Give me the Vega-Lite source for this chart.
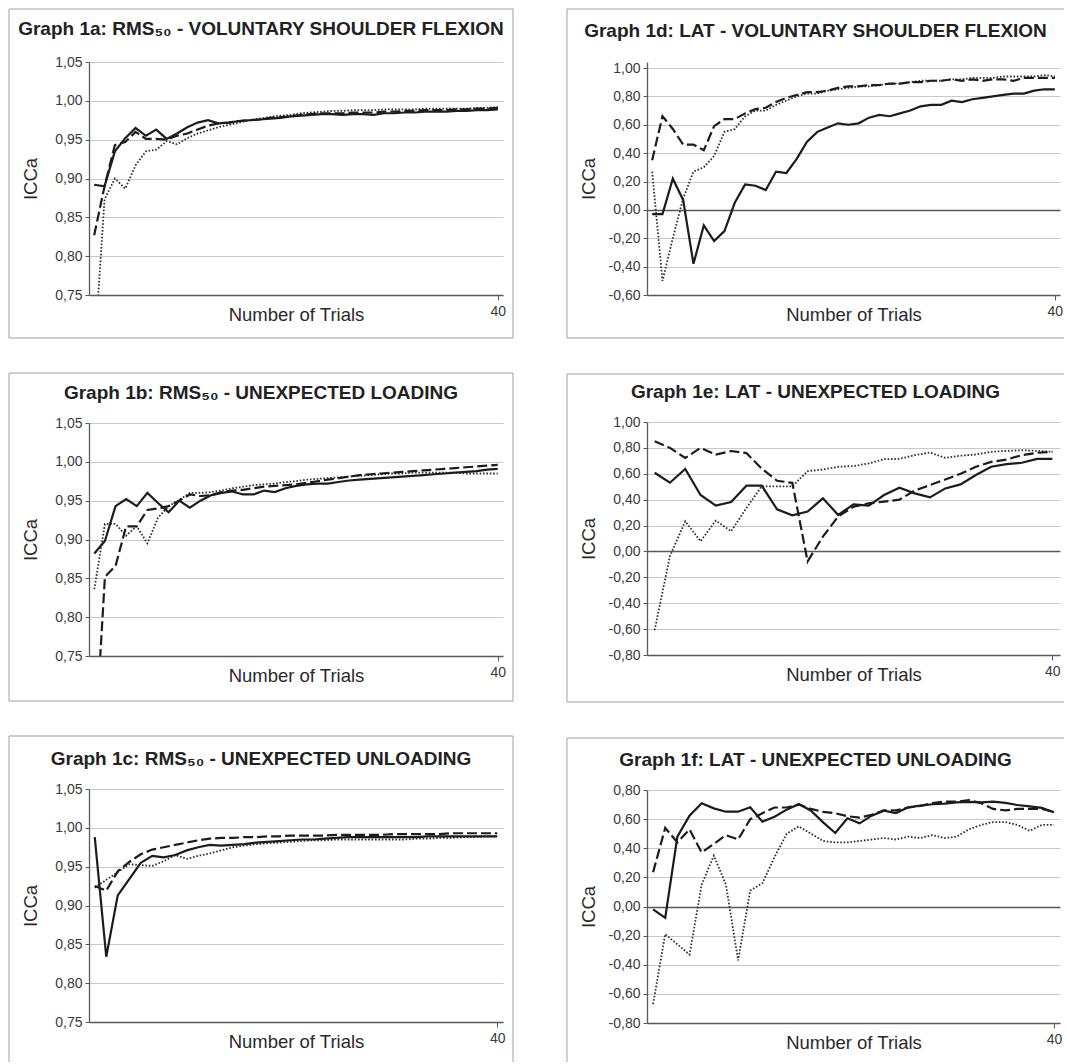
{
"$schema":"https://vega.github.io/schema/vega-lite/v6.json",
"padding":{"left":8,"top":8,"right":0,"bottom":0},
"background":"white",
"config":{
 "view":{"stroke":null},
 "font":"Liberation Sans",
 "axis":{"labelFont":"Liberation Sans","titleFont":"Liberation Sans","labelFontSize":14,"labelColor":"#3a3a3a","titleFontSize":18.5,"titleFontWeight":"normal","titleColor":"#2a2a2a","domainColor":"#5a5a5a","domainWidth":1.3,"tickColor":"#5a5a5a","tickSize":4,"labelPadding":3,"gridColor":{"condition":{"test":"datum.value === 0","value":"#5a5a5a"},"value":"#c8c8c8"},"gridWidth":{"condition":{"test":"datum.value === 0","value":1.6},"value":1}},
 "axisX":{"tickSize":5,"labelPadding":4,"titleY":25,"titleBaseline":"alphabetic","grid":false},
 "axisY":{"titleX":-59,"titleBaseline":"middle"},
 "title":{"font":"Liberation Sans","fontSize":19,"fontWeight":"bold","color":"#222222","anchor":"middle","frame":"bounds","baseline":"alphabetic"}
},
"datasets":{
"g1a":[
{"trial":1,"series":"S1","icc":0.892},{"trial":2,"series":"S1","icc":0.890},{"trial":3,"series":"S1","icc":0.935},{"trial":4,"series":"S1","icc":0.952},{"trial":5,"series":"S1","icc":0.965},{"trial":6,"series":"S1","icc":0.955},{"trial":7,"series":"S1","icc":0.963},{"trial":8,"series":"S1","icc":0.951},{"trial":9,"series":"S1","icc":0.958},{"trial":10,"series":"S1","icc":0.966},
{"trial":11,"series":"S1","icc":0.972},{"trial":12,"series":"S1","icc":0.975},{"trial":13,"series":"S1","icc":0.971},{"trial":14,"series":"S1","icc":0.972},{"trial":15,"series":"S1","icc":0.974},{"trial":16,"series":"S1","icc":0.975},{"trial":17,"series":"S1","icc":0.976},{"trial":18,"series":"S1","icc":0.977},{"trial":19,"series":"S1","icc":0.978},{"trial":20,"series":"S1","icc":0.980},
{"trial":21,"series":"S1","icc":0.981},{"trial":22,"series":"S1","icc":0.982},{"trial":23,"series":"S1","icc":0.983},{"trial":24,"series":"S1","icc":0.983},{"trial":25,"series":"S1","icc":0.982},{"trial":26,"series":"S1","icc":0.983},{"trial":27,"series":"S1","icc":0.983},{"trial":28,"series":"S1","icc":0.982},{"trial":29,"series":"S1","icc":0.984},{"trial":30,"series":"S1","icc":0.984},
{"trial":31,"series":"S1","icc":0.985},{"trial":32,"series":"S1","icc":0.985},{"trial":33,"series":"S1","icc":0.986},{"trial":34,"series":"S1","icc":0.986},{"trial":35,"series":"S1","icc":0.986},{"trial":36,"series":"S1","icc":0.987},{"trial":37,"series":"S1","icc":0.987},{"trial":38,"series":"S1","icc":0.988},{"trial":39,"series":"S1","icc":0.988},{"trial":40,"series":"S1","icc":0.989},
{"trial":1,"series":"S2","icc":0.827},{"trial":2,"series":"S2","icc":0.890},{"trial":3,"series":"S2","icc":0.943},{"trial":4,"series":"S2","icc":0.947},{"trial":5,"series":"S2","icc":0.960},{"trial":6,"series":"S2","icc":0.951},{"trial":7,"series":"S2","icc":0.951},{"trial":8,"series":"S2","icc":0.950},{"trial":9,"series":"S2","icc":0.955},{"trial":10,"series":"S2","icc":0.958},
{"trial":11,"series":"S2","icc":0.963},{"trial":12,"series":"S2","icc":0.968},{"trial":13,"series":"S2","icc":0.971},{"trial":14,"series":"S2","icc":0.972},{"trial":15,"series":"S2","icc":0.974},{"trial":16,"series":"S2","icc":0.975},{"trial":17,"series":"S2","icc":0.976},{"trial":18,"series":"S2","icc":0.978},{"trial":19,"series":"S2","icc":0.979},{"trial":20,"series":"S2","icc":0.980},
{"trial":21,"series":"S2","icc":0.982},{"trial":22,"series":"S2","icc":0.983},{"trial":23,"series":"S2","icc":0.984},{"trial":24,"series":"S2","icc":0.984},{"trial":25,"series":"S2","icc":0.984},{"trial":26,"series":"S2","icc":0.985},{"trial":27,"series":"S2","icc":0.985},{"trial":28,"series":"S2","icc":0.985},{"trial":29,"series":"S2","icc":0.986},{"trial":30,"series":"S2","icc":0.986},
{"trial":31,"series":"S2","icc":0.987},{"trial":32,"series":"S2","icc":0.987},{"trial":33,"series":"S2","icc":0.988},{"trial":34,"series":"S2","icc":0.988},{"trial":35,"series":"S2","icc":0.988},{"trial":36,"series":"S2","icc":0.989},{"trial":37,"series":"S2","icc":0.989},{"trial":38,"series":"S2","icc":0.990},{"trial":39,"series":"S2","icc":0.990},{"trial":40,"series":"S2","icc":0.991},
{"trial":1,"series":"S3","icc":0.670},{"trial":2,"series":"S3","icc":0.873},{"trial":3,"series":"S3","icc":0.900},{"trial":4,"series":"S3","icc":0.887},{"trial":5,"series":"S3","icc":0.917},{"trial":6,"series":"S3","icc":0.935},{"trial":7,"series":"S3","icc":0.937},{"trial":8,"series":"S3","icc":0.948},{"trial":9,"series":"S3","icc":0.944},{"trial":10,"series":"S3","icc":0.952},
{"trial":11,"series":"S3","icc":0.958},{"trial":12,"series":"S3","icc":0.962},{"trial":13,"series":"S3","icc":0.966},{"trial":14,"series":"S3","icc":0.969},{"trial":15,"series":"S3","icc":0.972},{"trial":16,"series":"S3","icc":0.975},{"trial":17,"series":"S3","icc":0.977},{"trial":18,"series":"S3","icc":0.979},{"trial":19,"series":"S3","icc":0.981},{"trial":20,"series":"S3","icc":0.982},
{"trial":21,"series":"S3","icc":0.984},{"trial":22,"series":"S3","icc":0.985},{"trial":23,"series":"S3","icc":0.986},{"trial":24,"series":"S3","icc":0.987},{"trial":25,"series":"S3","icc":0.987},{"trial":26,"series":"S3","icc":0.988},{"trial":27,"series":"S3","icc":0.988},{"trial":28,"series":"S3","icc":0.988},{"trial":29,"series":"S3","icc":0.989},{"trial":30,"series":"S3","icc":0.989},
{"trial":31,"series":"S3","icc":0.989},{"trial":32,"series":"S3","icc":0.989},{"trial":33,"series":"S3","icc":0.990},{"trial":34,"series":"S3","icc":0.990},{"trial":35,"series":"S3","icc":0.990},{"trial":36,"series":"S3","icc":0.990},{"trial":37,"series":"S3","icc":0.990},{"trial":38,"series":"S3","icc":0.991},{"trial":39,"series":"S3","icc":0.991},{"trial":40,"series":"S3","icc":0.992}
],
"g1b":[
{"trial":2,"series":"S1","icc":0.882},{"trial":3,"series":"S1","icc":0.898},{"trial":4,"series":"S1","icc":0.943},{"trial":5,"series":"S1","icc":0.952},{"trial":6,"series":"S1","icc":0.943},{"trial":7,"series":"S1","icc":0.960},{"trial":8,"series":"S1","icc":0.947},{"trial":9,"series":"S1","icc":0.935},{"trial":10,"series":"S1","icc":0.950},
{"trial":11,"series":"S1","icc":0.941},{"trial":12,"series":"S1","icc":0.950},{"trial":13,"series":"S1","icc":0.957},{"trial":14,"series":"S1","icc":0.960},{"trial":15,"series":"S1","icc":0.962},{"trial":16,"series":"S1","icc":0.958},{"trial":17,"series":"S1","icc":0.958},{"trial":18,"series":"S1","icc":0.963},{"trial":19,"series":"S1","icc":0.961},{"trial":20,"series":"S1","icc":0.966},
{"trial":21,"series":"S1","icc":0.969},{"trial":22,"series":"S1","icc":0.971},{"trial":23,"series":"S1","icc":0.972},{"trial":24,"series":"S1","icc":0.972},{"trial":25,"series":"S1","icc":0.974},{"trial":26,"series":"S1","icc":0.976},{"trial":27,"series":"S1","icc":0.977},{"trial":28,"series":"S1","icc":0.978},{"trial":29,"series":"S1","icc":0.979},{"trial":30,"series":"S1","icc":0.980},
{"trial":31,"series":"S1","icc":0.981},{"trial":32,"series":"S1","icc":0.982},{"trial":33,"series":"S1","icc":0.983},{"trial":34,"series":"S1","icc":0.984},{"trial":35,"series":"S1","icc":0.985},{"trial":36,"series":"S1","icc":0.986},{"trial":37,"series":"S1","icc":0.987},{"trial":38,"series":"S1","icc":0.988},{"trial":39,"series":"S1","icc":0.990},{"trial":40,"series":"S1","icc":0.991},
{"trial":2,"series":"S2","icc":0.620},{"trial":3,"series":"S2","icc":0.852},{"trial":4,"series":"S2","icc":0.866},{"trial":5,"series":"S2","icc":0.917},{"trial":6,"series":"S2","icc":0.917},{"trial":7,"series":"S2","icc":0.938},{"trial":8,"series":"S2","icc":0.940},{"trial":9,"series":"S2","icc":0.943},{"trial":10,"series":"S2","icc":0.950},
{"trial":11,"series":"S2","icc":0.958},{"trial":12,"series":"S2","icc":0.956},{"trial":13,"series":"S2","icc":0.957},{"trial":14,"series":"S2","icc":0.961},{"trial":15,"series":"S2","icc":0.963},{"trial":16,"series":"S2","icc":0.964},{"trial":17,"series":"S2","icc":0.966},{"trial":18,"series":"S2","icc":0.968},{"trial":19,"series":"S2","icc":0.969},{"trial":20,"series":"S2","icc":0.970},
{"trial":21,"series":"S2","icc":0.971},{"trial":22,"series":"S2","icc":0.973},{"trial":23,"series":"S2","icc":0.975},{"trial":24,"series":"S2","icc":0.977},{"trial":25,"series":"S2","icc":0.979},{"trial":26,"series":"S2","icc":0.981},{"trial":27,"series":"S2","icc":0.983},{"trial":28,"series":"S2","icc":0.984},{"trial":29,"series":"S2","icc":0.985},{"trial":30,"series":"S2","icc":0.986},
{"trial":31,"series":"S2","icc":0.987},{"trial":32,"series":"S2","icc":0.988},{"trial":33,"series":"S2","icc":0.989},{"trial":34,"series":"S2","icc":0.990},{"trial":35,"series":"S2","icc":0.991},{"trial":36,"series":"S2","icc":0.992},{"trial":37,"series":"S2","icc":0.993},{"trial":38,"series":"S2","icc":0.994},{"trial":39,"series":"S2","icc":0.995},{"trial":40,"series":"S2","icc":0.996},
{"trial":2,"series":"S3","icc":0.836},{"trial":3,"series":"S3","icc":0.920},{"trial":4,"series":"S3","icc":0.920},{"trial":5,"series":"S3","icc":0.905},{"trial":6,"series":"S3","icc":0.917},{"trial":7,"series":"S3","icc":0.895},{"trial":8,"series":"S3","icc":0.928},{"trial":9,"series":"S3","icc":0.943},{"trial":10,"series":"S3","icc":0.951},
{"trial":11,"series":"S3","icc":0.960},{"trial":12,"series":"S3","icc":0.960},{"trial":13,"series":"S3","icc":0.961},{"trial":14,"series":"S3","icc":0.963},{"trial":15,"series":"S3","icc":0.966},{"trial":16,"series":"S3","icc":0.968},{"trial":17,"series":"S3","icc":0.970},{"trial":18,"series":"S3","icc":0.971},{"trial":19,"series":"S3","icc":0.972},{"trial":20,"series":"S3","icc":0.974},
{"trial":21,"series":"S3","icc":0.975},{"trial":22,"series":"S3","icc":0.977},{"trial":23,"series":"S3","icc":0.978},{"trial":24,"series":"S3","icc":0.979},{"trial":25,"series":"S3","icc":0.980},{"trial":26,"series":"S3","icc":0.981},{"trial":27,"series":"S3","icc":0.982},{"trial":28,"series":"S3","icc":0.983},{"trial":29,"series":"S3","icc":0.984},{"trial":30,"series":"S3","icc":0.985},
{"trial":31,"series":"S3","icc":0.985},{"trial":32,"series":"S3","icc":0.986},{"trial":33,"series":"S3","icc":0.986},{"trial":34,"series":"S3","icc":0.986},{"trial":35,"series":"S3","icc":0.986},{"trial":36,"series":"S3","icc":0.986},{"trial":37,"series":"S3","icc":0.985},{"trial":38,"series":"S3","icc":0.985},{"trial":39,"series":"S3","icc":0.985},{"trial":40,"series":"S3","icc":0.985}
],
"g1c":[
{"trial":5,"series":"S1","icc":0.988},{"trial":6,"series":"S1","icc":0.834},{"trial":7,"series":"S1","icc":0.913},{"trial":8,"series":"S1","icc":0.934},{"trial":9,"series":"S1","icc":0.955},{"trial":10,"series":"S1","icc":0.964},
{"trial":11,"series":"S1","icc":0.962},{"trial":12,"series":"S1","icc":0.965},{"trial":13,"series":"S1","icc":0.971},{"trial":14,"series":"S1","icc":0.975},{"trial":15,"series":"S1","icc":0.978},{"trial":16,"series":"S1","icc":0.977},{"trial":17,"series":"S1","icc":0.978},{"trial":18,"series":"S1","icc":0.979},{"trial":19,"series":"S1","icc":0.981},{"trial":20,"series":"S1","icc":0.982},
{"trial":21,"series":"S1","icc":0.983},{"trial":22,"series":"S1","icc":0.984},{"trial":23,"series":"S1","icc":0.985},{"trial":24,"series":"S1","icc":0.985},{"trial":25,"series":"S1","icc":0.986},{"trial":26,"series":"S1","icc":0.987},{"trial":27,"series":"S1","icc":0.988},{"trial":28,"series":"S1","icc":0.988},{"trial":29,"series":"S1","icc":0.988},{"trial":30,"series":"S1","icc":0.988},
{"trial":31,"series":"S1","icc":0.988},{"trial":32,"series":"S1","icc":0.988},{"trial":33,"series":"S1","icc":0.988},{"trial":34,"series":"S1","icc":0.989},{"trial":35,"series":"S1","icc":0.989},{"trial":36,"series":"S1","icc":0.989},{"trial":37,"series":"S1","icc":0.989},{"trial":38,"series":"S1","icc":0.989},{"trial":39,"series":"S1","icc":0.989},{"trial":40,"series":"S1","icc":0.989},
{"trial":5,"series":"S2","icc":0.925},{"trial":6,"series":"S2","icc":0.919},{"trial":7,"series":"S2","icc":0.944},{"trial":8,"series":"S2","icc":0.956},{"trial":9,"series":"S2","icc":0.966},{"trial":10,"series":"S2","icc":0.972},
{"trial":11,"series":"S2","icc":0.975},{"trial":12,"series":"S2","icc":0.978},{"trial":13,"series":"S2","icc":0.981},{"trial":14,"series":"S2","icc":0.984},{"trial":15,"series":"S2","icc":0.986},{"trial":16,"series":"S2","icc":0.987},{"trial":17,"series":"S2","icc":0.987},{"trial":18,"series":"S2","icc":0.988},{"trial":19,"series":"S2","icc":0.988},{"trial":20,"series":"S2","icc":0.989},
{"trial":21,"series":"S2","icc":0.989},{"trial":22,"series":"S2","icc":0.990},{"trial":23,"series":"S2","icc":0.990},{"trial":24,"series":"S2","icc":0.990},{"trial":25,"series":"S2","icc":0.990},{"trial":26,"series":"S2","icc":0.991},{"trial":27,"series":"S2","icc":0.991},{"trial":28,"series":"S2","icc":0.991},{"trial":29,"series":"S2","icc":0.991},{"trial":30,"series":"S2","icc":0.991},
{"trial":31,"series":"S2","icc":0.992},{"trial":32,"series":"S2","icc":0.992},{"trial":33,"series":"S2","icc":0.992},{"trial":34,"series":"S2","icc":0.992},{"trial":35,"series":"S2","icc":0.992},{"trial":36,"series":"S2","icc":0.993},{"trial":37,"series":"S2","icc":0.993},{"trial":38,"series":"S2","icc":0.993},{"trial":39,"series":"S2","icc":0.993},{"trial":40,"series":"S2","icc":0.993},
{"trial":5,"series":"S3","icc":0.923},{"trial":6,"series":"S3","icc":0.933},{"trial":7,"series":"S3","icc":0.943},{"trial":8,"series":"S3","icc":0.953},{"trial":9,"series":"S3","icc":0.952},{"trial":10,"series":"S3","icc":0.951},
{"trial":11,"series":"S3","icc":0.957},{"trial":12,"series":"S3","icc":0.965},{"trial":13,"series":"S3","icc":0.960},{"trial":14,"series":"S3","icc":0.964},{"trial":15,"series":"S3","icc":0.967},{"trial":16,"series":"S3","icc":0.971},{"trial":17,"series":"S3","icc":0.975},{"trial":18,"series":"S3","icc":0.977},{"trial":19,"series":"S3","icc":0.979},{"trial":20,"series":"S3","icc":0.980},
{"trial":21,"series":"S3","icc":0.981},{"trial":22,"series":"S3","icc":0.982},{"trial":23,"series":"S3","icc":0.983},{"trial":24,"series":"S3","icc":0.984},{"trial":25,"series":"S3","icc":0.984},{"trial":26,"series":"S3","icc":0.985},{"trial":27,"series":"S3","icc":0.985},{"trial":28,"series":"S3","icc":0.985},{"trial":29,"series":"S3","icc":0.985},{"trial":30,"series":"S3","icc":0.985},
{"trial":31,"series":"S3","icc":0.985},{"trial":32,"series":"S3","icc":0.985},{"trial":33,"series":"S3","icc":0.986},{"trial":34,"series":"S3","icc":0.986},{"trial":35,"series":"S3","icc":0.987},{"trial":36,"series":"S3","icc":0.987},{"trial":37,"series":"S3","icc":0.988},{"trial":38,"series":"S3","icc":0.988},{"trial":39,"series":"S3","icc":0.989},{"trial":40,"series":"S3","icc":0.989}
],
"g1d":[
{"trial":1,"series":"S1","icc":-0.03},{"trial":2,"series":"S1","icc":-0.03},{"trial":3,"series":"S1","icc":0.22},{"trial":4,"series":"S1","icc":0.07},{"trial":5,"series":"S1","icc":-0.38},{"trial":6,"series":"S1","icc":-0.11},{"trial":7,"series":"S1","icc":-0.22},{"trial":8,"series":"S1","icc":-0.15},{"trial":9,"series":"S1","icc":0.05},{"trial":10,"series":"S1","icc":0.18},
{"trial":11,"series":"S1","icc":0.17},{"trial":12,"series":"S1","icc":0.14},{"trial":13,"series":"S1","icc":0.27},{"trial":14,"series":"S1","icc":0.26},{"trial":15,"series":"S1","icc":0.36},{"trial":16,"series":"S1","icc":0.48},{"trial":17,"series":"S1","icc":0.55},{"trial":18,"series":"S1","icc":0.58},{"trial":19,"series":"S1","icc":0.61},{"trial":20,"series":"S1","icc":0.60},
{"trial":21,"series":"S1","icc":0.61},{"trial":22,"series":"S1","icc":0.65},{"trial":23,"series":"S1","icc":0.67},{"trial":24,"series":"S1","icc":0.66},{"trial":25,"series":"S1","icc":0.68},{"trial":26,"series":"S1","icc":0.70},{"trial":27,"series":"S1","icc":0.73},{"trial":28,"series":"S1","icc":0.74},{"trial":29,"series":"S1","icc":0.74},{"trial":30,"series":"S1","icc":0.77},
{"trial":31,"series":"S1","icc":0.76},{"trial":32,"series":"S1","icc":0.78},{"trial":33,"series":"S1","icc":0.79},{"trial":34,"series":"S1","icc":0.80},{"trial":35,"series":"S1","icc":0.81},{"trial":36,"series":"S1","icc":0.82},{"trial":37,"series":"S1","icc":0.82},{"trial":38,"series":"S1","icc":0.84},{"trial":39,"series":"S1","icc":0.85},{"trial":40,"series":"S1","icc":0.85},
{"trial":1,"series":"S2","icc":0.35},{"trial":2,"series":"S2","icc":0.66},{"trial":3,"series":"S2","icc":0.57},{"trial":4,"series":"S2","icc":0.46},{"trial":5,"series":"S2","icc":0.46},{"trial":6,"series":"S2","icc":0.42},{"trial":7,"series":"S2","icc":0.59},{"trial":8,"series":"S2","icc":0.64},{"trial":9,"series":"S2","icc":0.64},{"trial":10,"series":"S2","icc":0.68},
{"trial":11,"series":"S2","icc":0.71},{"trial":12,"series":"S2","icc":0.72},{"trial":13,"series":"S2","icc":0.76},{"trial":14,"series":"S2","icc":0.79},{"trial":15,"series":"S2","icc":0.81},{"trial":16,"series":"S2","icc":0.83},{"trial":17,"series":"S2","icc":0.83},{"trial":18,"series":"S2","icc":0.84},{"trial":19,"series":"S2","icc":0.86},{"trial":20,"series":"S2","icc":0.87},
{"trial":21,"series":"S2","icc":0.87},{"trial":22,"series":"S2","icc":0.88},{"trial":23,"series":"S2","icc":0.88},{"trial":24,"series":"S2","icc":0.89},{"trial":25,"series":"S2","icc":0.89},{"trial":26,"series":"S2","icc":0.90},{"trial":27,"series":"S2","icc":0.90},{"trial":28,"series":"S2","icc":0.91},{"trial":29,"series":"S2","icc":0.91},{"trial":30,"series":"S2","icc":0.92},
{"trial":31,"series":"S2","icc":0.91},{"trial":32,"series":"S2","icc":0.92},{"trial":33,"series":"S2","icc":0.91},{"trial":34,"series":"S2","icc":0.92},{"trial":35,"series":"S2","icc":0.92},{"trial":36,"series":"S2","icc":0.91},{"trial":37,"series":"S2","icc":0.93},{"trial":38,"series":"S2","icc":0.93},{"trial":39,"series":"S2","icc":0.93},{"trial":40,"series":"S2","icc":0.93},
{"trial":1,"series":"S3","icc":0.27},{"trial":2,"series":"S3","icc":-0.50},{"trial":3,"series":"S3","icc":-0.20},{"trial":4,"series":"S3","icc":0.08},{"trial":5,"series":"S3","icc":0.27},{"trial":6,"series":"S3","icc":0.30},{"trial":7,"series":"S3","icc":0.38},{"trial":8,"series":"S3","icc":0.55},{"trial":9,"series":"S3","icc":0.57},{"trial":10,"series":"S3","icc":0.66},
{"trial":11,"series":"S3","icc":0.70},{"trial":12,"series":"S3","icc":0.70},{"trial":13,"series":"S3","icc":0.74},{"trial":14,"series":"S3","icc":0.77},{"trial":15,"series":"S3","icc":0.80},{"trial":16,"series":"S3","icc":0.82},{"trial":17,"series":"S3","icc":0.82},{"trial":18,"series":"S3","icc":0.84},{"trial":19,"series":"S3","icc":0.85},{"trial":20,"series":"S3","icc":0.86},
{"trial":21,"series":"S3","icc":0.87},{"trial":22,"series":"S3","icc":0.87},{"trial":23,"series":"S3","icc":0.88},{"trial":24,"series":"S3","icc":0.89},{"trial":25,"series":"S3","icc":0.89},{"trial":26,"series":"S3","icc":0.90},{"trial":27,"series":"S3","icc":0.91},{"trial":28,"series":"S3","icc":0.91},{"trial":29,"series":"S3","icc":0.91},{"trial":30,"series":"S3","icc":0.92},
{"trial":31,"series":"S3","icc":0.92},{"trial":32,"series":"S3","icc":0.93},{"trial":33,"series":"S3","icc":0.93},{"trial":34,"series":"S3","icc":0.93},{"trial":35,"series":"S3","icc":0.94},{"trial":36,"series":"S3","icc":0.94},{"trial":37,"series":"S3","icc":0.94},{"trial":38,"series":"S3","icc":0.94},{"trial":39,"series":"S3","icc":0.95},{"trial":40,"series":"S3","icc":0.94}
],
"g1e":[
{"trial":14,"series":"S1","icc":0.608},{"trial":15,"series":"S1","icc":0.531},{"trial":16,"series":"S1","icc":0.638},{"trial":17,"series":"S1","icc":0.436},{"trial":18,"series":"S1","icc":0.354},{"trial":19,"series":"S1","icc":0.382},{"trial":20,"series":"S1","icc":0.508},
{"trial":21,"series":"S1","icc":0.508},{"trial":22,"series":"S1","icc":0.326},{"trial":23,"series":"S1","icc":0.279},{"trial":24,"series":"S1","icc":0.308},{"trial":25,"series":"S1","icc":0.410},{"trial":26,"series":"S1","icc":0.282},{"trial":27,"series":"S1","icc":0.364},{"trial":28,"series":"S1","icc":0.354},{"trial":29,"series":"S1","icc":0.436},{"trial":30,"series":"S1","icc":0.492},
{"trial":31,"series":"S1","icc":0.449},{"trial":32,"series":"S1","icc":0.418},{"trial":33,"series":"S1","icc":0.487},{"trial":34,"series":"S1","icc":0.518},{"trial":35,"series":"S1","icc":0.590},{"trial":36,"series":"S1","icc":0.654},{"trial":37,"series":"S1","icc":0.674},{"trial":38,"series":"S1","icc":0.685},{"trial":39,"series":"S1","icc":0.715},{"trial":40,"series":"S1","icc":0.715},
{"trial":14,"series":"S2","icc":0.851},{"trial":15,"series":"S2","icc":0.800},{"trial":16,"series":"S2","icc":0.722},{"trial":17,"series":"S2","icc":0.800},{"trial":18,"series":"S2","icc":0.748},{"trial":19,"series":"S2","icc":0.776},{"trial":20,"series":"S2","icc":0.760},
{"trial":21,"series":"S2","icc":0.640},{"trial":22,"series":"S2","icc":0.546},{"trial":23,"series":"S2","icc":0.530},{"trial":24,"series":"S2","icc":-0.077},{"trial":25,"series":"S2","icc":0.115},{"trial":26,"series":"S2","icc":0.270},{"trial":27,"series":"S2","icc":0.345},{"trial":28,"series":"S2","icc":0.372},{"trial":29,"series":"S2","icc":0.385},{"trial":30,"series":"S2","icc":0.400},
{"trial":31,"series":"S2","icc":0.470},{"trial":32,"series":"S2","icc":0.513},{"trial":33,"series":"S2","icc":0.556},{"trial":34,"series":"S2","icc":0.600},{"trial":35,"series":"S2","icc":0.654},{"trial":36,"series":"S2","icc":0.692},{"trial":37,"series":"S2","icc":0.710},{"trial":38,"series":"S2","icc":0.744},{"trial":39,"series":"S2","icc":0.762},{"trial":40,"series":"S2","icc":0.769},
{"trial":14,"series":"S3","icc":-0.608},{"trial":15,"series":"S3","icc":-0.036},{"trial":16,"series":"S3","icc":0.233},{"trial":17,"series":"S3","icc":0.079},{"trial":18,"series":"S3","icc":0.238},{"trial":19,"series":"S3","icc":0.156},{"trial":20,"series":"S3","icc":0.336},
{"trial":21,"series":"S3","icc":0.503},{"trial":22,"series":"S3","icc":0.503},{"trial":23,"series":"S3","icc":0.503},{"trial":24,"series":"S3","icc":0.620},{"trial":25,"series":"S3","icc":0.633},{"trial":26,"series":"S3","icc":0.654},{"trial":27,"series":"S3","icc":0.660},{"trial":28,"series":"S3","icc":0.680},{"trial":29,"series":"S3","icc":0.713},{"trial":30,"series":"S3","icc":0.715},
{"trial":31,"series":"S3","icc":0.744},{"trial":32,"series":"S3","icc":0.764},{"trial":33,"series":"S3","icc":0.723},{"trial":34,"series":"S3","icc":0.740},{"trial":35,"series":"S3","icc":0.749},{"trial":36,"series":"S3","icc":0.769},{"trial":37,"series":"S3","icc":0.777},{"trial":38,"series":"S3","icc":0.782},{"trial":39,"series":"S3","icc":0.777},{"trial":40,"series":"S3","icc":0.770}
],
"g1f":[
{"trial":7,"series":"S1","icc":-0.02},{"trial":8,"series":"S1","icc":-0.078},{"trial":9,"series":"S1","icc":0.48},{"trial":10,"series":"S1","icc":0.624},
{"trial":11,"series":"S1","icc":0.709},{"trial":12,"series":"S1","icc":0.674},{"trial":13,"series":"S1","icc":0.651},{"trial":14,"series":"S1","icc":0.651},{"trial":15,"series":"S1","icc":0.681},{"trial":16,"series":"S1","icc":0.583},{"trial":17,"series":"S1","icc":0.617},{"trial":18,"series":"S1","icc":0.665},{"trial":19,"series":"S1","icc":0.704},{"trial":20,"series":"S1","icc":0.658},
{"trial":21,"series":"S1","icc":0.578},{"trial":22,"series":"S1","icc":0.505},{"trial":23,"series":"S1","icc":0.606},{"trial":24,"series":"S1","icc":0.571},{"trial":25,"series":"S1","icc":0.624},{"trial":26,"series":"S1","icc":0.658},{"trial":27,"series":"S1","icc":0.642},{"trial":28,"series":"S1","icc":0.681},{"trial":29,"series":"S1","icc":0.693},{"trial":30,"series":"S1","icc":0.702},
{"trial":31,"series":"S1","icc":0.706},{"trial":32,"series":"S1","icc":0.715},{"trial":33,"series":"S1","icc":0.718},{"trial":34,"series":"S1","icc":0.715},{"trial":35,"series":"S1","icc":0.720},{"trial":36,"series":"S1","icc":0.711},{"trial":37,"series":"S1","icc":0.697},{"trial":38,"series":"S1","icc":0.688},{"trial":39,"series":"S1","icc":0.677},{"trial":40,"series":"S1","icc":0.647},
{"trial":7,"series":"S2","icc":0.235},{"trial":8,"series":"S2","icc":0.54},{"trial":9,"series":"S2","icc":0.44},{"trial":10,"series":"S2","icc":0.53},
{"trial":11,"series":"S2","icc":0.37},{"trial":12,"series":"S2","icc":0.43},{"trial":13,"series":"S2","icc":0.49},{"trial":14,"series":"S2","icc":0.46},{"trial":15,"series":"S2","icc":0.60},{"trial":16,"series":"S2","icc":0.64},{"trial":17,"series":"S2","icc":0.68},{"trial":18,"series":"S2","icc":0.68},{"trial":19,"series":"S2","icc":0.70},{"trial":20,"series":"S2","icc":0.67},
{"trial":21,"series":"S2","icc":0.65},{"trial":22,"series":"S2","icc":0.64},{"trial":23,"series":"S2","icc":0.62},{"trial":24,"series":"S2","icc":0.61},{"trial":25,"series":"S2","icc":0.63},{"trial":26,"series":"S2","icc":0.66},{"trial":27,"series":"S2","icc":0.66},{"trial":28,"series":"S2","icc":0.68},{"trial":29,"series":"S2","icc":0.69},{"trial":30,"series":"S2","icc":0.71},
{"trial":31,"series":"S2","icc":0.72},{"trial":32,"series":"S2","icc":0.72},{"trial":33,"series":"S2","icc":0.73},{"trial":34,"series":"S2","icc":0.71},{"trial":35,"series":"S2","icc":0.67},{"trial":36,"series":"S2","icc":0.66},{"trial":37,"series":"S2","icc":0.67},{"trial":38,"series":"S2","icc":0.67},{"trial":39,"series":"S2","icc":0.67},{"trial":40,"series":"S2","icc":0.65},
{"trial":7,"series":"S3","icc":-0.67},{"trial":8,"series":"S3","icc":-0.19},{"trial":9,"series":"S3","icc":-0.26},{"trial":10,"series":"S3","icc":-0.33},
{"trial":11,"series":"S3","icc":0.15},{"trial":12,"series":"S3","icc":0.35},{"trial":13,"series":"S3","icc":0.15},{"trial":14,"series":"S3","icc":-0.37},{"trial":15,"series":"S3","icc":0.11},{"trial":16,"series":"S3","icc":0.16},{"trial":17,"series":"S3","icc":0.34},{"trial":18,"series":"S3","icc":0.50},{"trial":19,"series":"S3","icc":0.55},{"trial":20,"series":"S3","icc":0.50},
{"trial":21,"series":"S3","icc":0.45},{"trial":22,"series":"S3","icc":0.44},{"trial":23,"series":"S3","icc":0.44},{"trial":24,"series":"S3","icc":0.45},{"trial":25,"series":"S3","icc":0.46},{"trial":26,"series":"S3","icc":0.47},{"trial":27,"series":"S3","icc":0.46},{"trial":28,"series":"S3","icc":0.48},{"trial":29,"series":"S3","icc":0.47},{"trial":30,"series":"S3","icc":0.49},
{"trial":31,"series":"S3","icc":0.47},{"trial":32,"series":"S3","icc":0.48},{"trial":33,"series":"S3","icc":0.53},{"trial":34,"series":"S3","icc":0.56},{"trial":35,"series":"S3","icc":0.58},{"trial":36,"series":"S3","icc":0.58},{"trial":37,"series":"S3","icc":0.56},{"trial":38,"series":"S3","icc":0.52},{"trial":39,"series":"S3","icc":0.56},{"trial":40,"series":"S3","icc":0.56}
]
},
"spacing":52,
"hconcat":[
{"spacing":33,"vconcat":[
 {"width":414,"height":233,"title":{"text":"Graph 1a: RMS₅₀ - VOLUNTARY SHOULDER FLEXION","offset":-30},
  "data":{"name":"g1a"},
  "resolve":{"axis":{"x":"independent","y":"independent"}},
  "layer":[
   {"transform":[{"aggregate":[{"op":"count","as":"n"}]}],"mark":{"type":"rule","color":"#a0a0a0","strokeWidth":1,"clip":false},"encoding":{"x":{"datum":-7.2295,"axis":null},"x2":{"datum":41.4662},"y":{"datum":1.11824,"axis":null}}},
   {"transform":[{"aggregate":[{"op":"count","as":"n"}]}],"mark":{"type":"rule","color":"#a0a0a0","strokeWidth":1,"clip":false},"encoding":{"x":{"datum":-7.2295,"axis":null},"x2":{"datum":41.4662},"y":{"datum":0.69464,"axis":null}}},
   {"transform":[{"aggregate":[{"op":"count","as":"n"}]}],"mark":{"type":"rule","color":"#a0a0a0","strokeWidth":1,"clip":false},"encoding":{"x":{"datum":-7.2295,"axis":null},"y":{"datum":1.11824,"axis":null},"y2":{"datum":0.69464}}},
   {"transform":[{"aggregate":[{"op":"count","as":"n"}]}],"mark":{"type":"rule","color":"#a0a0a0","strokeWidth":1,"clip":false},"encoding":{"x":{"datum":41.4662,"axis":null},"y":{"datum":1.11824,"axis":null},"y2":{"datum":0.69464}}},
   {"encoding":{
     "x":{"field":"trial","type":"quantitative","scale":{"domain":[0.5,40.5],"nice":false,"zero":false},"axis":{"orient":"bottom","values":[40],"title":"Number of Trials"}},
     "y":{"field":"icc","type":"quantitative","scale":{"domain":[0.75,1.05],"nice":false,"zero":false},"axis":{"orient":"left","grid":true,"labelOverlap":false,"values":[0.75,0.8,0.85,0.9,0.95,1,1.05],"title":"ICCa","labelExpr":"(datum.value < 0 ? '-' : '') + replace(format(abs(datum.value), '.2f'), '.', ',')"}}},
    "layer":[
     {"transform":[{"filter":"datum.series == 'S3'"}],"mark":{"type":"line","clip":true,"color":"#2e2e2e","strokeWidth":1.8,"strokeDash":[1.6,1.8]}},
     {"transform":[{"filter":"datum.series == 'S2'"}],"mark":{"type":"line","clip":true,"color":"#1c1c1c","strokeWidth":2.2,"strokeDash":[10,4]}},
     {"transform":[{"filter":"datum.series == 'S1'"}],"mark":{"type":"line","clip":true,"color":"#1c1c1c","strokeWidth":2.2}}
    ]}
  ]},
 {"width":414,"height":233,"title":{"text":"Graph 1b: RMS₅₀ - UNEXPECTED LOADING","offset":-31},
  "data":{"name":"g1b"},
  "resolve":{"axis":{"x":"independent","y":"independent"}},
  "layer":[
   {"transform":[{"aggregate":[{"op":"count","as":"n"}]}],"mark":{"type":"rule","color":"#a0a0a0","strokeWidth":1,"clip":false},"encoding":{"x":{"datum":-6.0362,"axis":null},"x2":{"datum":41.442},"y":{"datum":1.11438,"axis":null}}},
   {"transform":[{"aggregate":[{"op":"count","as":"n"}]}],"mark":{"type":"rule","color":"#a0a0a0","strokeWidth":1,"clip":false},"encoding":{"x":{"datum":-6.0362,"axis":null},"x2":{"datum":41.442},"y":{"datum":0.69206,"axis":null}}},
   {"transform":[{"aggregate":[{"op":"count","as":"n"}]}],"mark":{"type":"rule","color":"#a0a0a0","strokeWidth":1,"clip":false},"encoding":{"x":{"datum":-6.0362,"axis":null},"y":{"datum":1.11438,"axis":null},"y2":{"datum":0.69206}}},
   {"transform":[{"aggregate":[{"op":"count","as":"n"}]}],"mark":{"type":"rule","color":"#a0a0a0","strokeWidth":1,"clip":false},"encoding":{"x":{"datum":41.442,"axis":null},"y":{"datum":1.11438,"axis":null},"y2":{"datum":0.69206}}},
   {"encoding":{
     "x":{"field":"trial","type":"quantitative","scale":{"domain":[1.5,40.5],"nice":false,"zero":false},"axis":{"orient":"bottom","values":[40],"title":"Number of Trials"}},
     "y":{"field":"icc","type":"quantitative","scale":{"domain":[0.75,1.05],"nice":false,"zero":false},"axis":{"orient":"left","grid":true,"labelOverlap":false,"values":[0.75,0.8,0.85,0.9,0.95,1,1.05],"title":"ICCa","labelExpr":"(datum.value < 0 ? '-' : '') + replace(format(abs(datum.value), '.2f'), '.', ',')"}}},
    "layer":[
     {"transform":[{"filter":"datum.series == 'S3'"}],"mark":{"type":"line","clip":true,"color":"#2e2e2e","strokeWidth":1.8,"strokeDash":[1.6,1.8]}},
     {"transform":[{"filter":"datum.series == 'S2'"}],"mark":{"type":"line","clip":true,"color":"#1c1c1c","strokeWidth":2.2,"strokeDash":[10,4]}},
     {"transform":[{"filter":"datum.series == 'S1'"}],"mark":{"type":"line","clip":true,"color":"#1c1c1c","strokeWidth":2.2}}
    ]}
  ]},
 {"width":414,"height":233,"title":{"text":"Graph 1c: RMS₅₀ - UNEXPECTED UNLOADING","offset":-33},
  "data":{"name":"g1c"},
  "resolve":{"axis":{"x":"independent","y":"independent"}},
  "layer":[
   {"transform":[{"aggregate":[{"op":"count","as":"n"}]}],"mark":{"type":"rule","color":"#a0a0a0","strokeWidth":1,"clip":false},"encoding":{"x":{"datum":-2.4565,"axis":null},"x2":{"datum":41.3696},"y":{"datum":1.11824,"axis":null}}},
   {"transform":[{"aggregate":[{"op":"count","as":"n"}]}],"mark":{"type":"rule","color":"#a0a0a0","strokeWidth":1,"clip":false},"encoding":{"x":{"datum":-2.4565,"axis":null},"y":{"datum":1.11824,"axis":null},"y2":{"datum":0.6985}}},
   {"transform":[{"aggregate":[{"op":"count","as":"n"}]}],"mark":{"type":"rule","color":"#a0a0a0","strokeWidth":1,"clip":false},"encoding":{"x":{"datum":41.3696,"axis":null},"y":{"datum":1.11824,"axis":null},"y2":{"datum":0.6985}}},
   {"encoding":{
     "x":{"field":"trial","type":"quantitative","scale":{"domain":[4.5,40.5],"nice":false,"zero":false},"axis":{"orient":"bottom","values":[40],"title":"Number of Trials"}},
     "y":{"field":"icc","type":"quantitative","scale":{"domain":[0.75,1.05],"nice":false,"zero":false},"axis":{"orient":"left","grid":true,"labelOverlap":false,"values":[0.75,0.8,0.85,0.9,0.95,1,1.05],"title":"ICCa","labelExpr":"(datum.value < 0 ? '-' : '') + replace(format(abs(datum.value), '.2f'), '.', ',')"}}},
    "layer":[
     {"transform":[{"filter":"datum.series == 'S3'"}],"mark":{"type":"line","clip":true,"color":"#2e2e2e","strokeWidth":1.8,"strokeDash":[1.6,1.8]}},
     {"transform":[{"filter":"datum.series == 'S2'"}],"mark":{"type":"line","clip":true,"color":"#1c1c1c","strokeWidth":2.2,"strokeDash":[10,4]}},
     {"transform":[{"filter":"datum.series == 'S1'"}],"mark":{"type":"line","clip":true,"color":"#1c1c1c","strokeWidth":2.2}}
    ]}
  ]}
]},
{"spacing":34,"vconcat":[
 {"width":413,"height":233,"title":{"text":"Graph 1d: LAT - VOLUNTARY SHOULDER FLEXION","offset":-32},
  "data":{"name":"g1d"},
  "resolve":{"axis":{"x":"independent","y":"independent"}},
  "layer":[
   {"transform":[{"aggregate":[{"op":"count","as":"n"}]}],"mark":{"type":"rule","color":"#a0a0a0","strokeWidth":1,"clip":false},"encoding":{"x":{"datum":-7.2482,"axis":null},"x2":{"datum":40.8874},"y":{"datum":1.41586,"axis":null}}},
   {"transform":[{"aggregate":[{"op":"count","as":"n"}]}],"mark":{"type":"rule","color":"#a0a0a0","strokeWidth":1,"clip":false},"encoding":{"x":{"datum":-7.2482,"axis":null},"x2":{"datum":40.8874},"y":{"datum":-0.90308,"axis":null}}},
   {"transform":[{"aggregate":[{"op":"count","as":"n"}]}],"mark":{"type":"rule","color":"#a0a0a0","strokeWidth":1,"clip":false},"encoding":{"x":{"datum":-7.2482,"axis":null},"y":{"datum":1.41586,"axis":null},"y2":{"datum":-0.90308}}},
   {"encoding":{
     "x":{"field":"trial","type":"quantitative","scale":{"domain":[0.5,40.5],"nice":false,"zero":false},"axis":{"orient":"bottom","values":[40],"title":"Number of Trials"}},
     "y":{"field":"icc","type":"quantitative","scale":{"domain":[-0.6,1.0423],"nice":false,"zero":false},"axis":{"orient":"left","grid":true,"labelOverlap":false,"values":[-0.6,-0.4,-0.2,0,0.2,0.4,0.6,0.8,1],"title":"ICCa","labelExpr":"(datum.value < 0 ? '-' : '') + replace(format(abs(datum.value), '.2f'), '.', ',')"}}},
    "layer":[
     {"transform":[{"filter":"datum.series == 'S3'"}],"mark":{"type":"line","clip":true,"color":"#2e2e2e","strokeWidth":1.8,"strokeDash":[1.6,1.8]}},
     {"transform":[{"filter":"datum.series == 'S2'"}],"mark":{"type":"line","clip":true,"color":"#1c1c1c","strokeWidth":2.2,"strokeDash":[10,4]}},
     {"transform":[{"filter":"datum.series == 'S1'"}],"mark":{"type":"line","clip":true,"color":"#1c1c1c","strokeWidth":2.2}}
    ]}
  ]},
 {"width":413,"height":233,"title":{"text":"Graph 1e: LAT - UNEXPECTED LOADING","offset":-29},
  "data":{"name":"g1e"},
  "resolve":{"axis":{"x":"independent","y":"independent"}},
  "layer":[
   {"transform":[{"aggregate":[{"op":"count","as":"n"}]}],"mark":{"type":"rule","color":"#a0a0a0","strokeWidth":1,"clip":false},"encoding":{"x":{"datum":8.27,"axis":null},"x2":{"datum":40.7615},"y":{"datum":1.37082,"axis":null}}},
   {"transform":[{"aggregate":[{"op":"count","as":"n"}]}],"mark":{"type":"rule","color":"#a0a0a0","strokeWidth":1,"clip":false},"encoding":{"x":{"datum":8.27,"axis":null},"x2":{"datum":40.7615},"y":{"datum":-1.16309,"axis":null}}},
   {"transform":[{"aggregate":[{"op":"count","as":"n"}]}],"mark":{"type":"rule","color":"#a0a0a0","strokeWidth":1,"clip":false},"encoding":{"x":{"datum":8.27,"axis":null},"y":{"datum":1.37082,"axis":null},"y2":{"datum":-1.16309}}},
   {"encoding":{
     "x":{"field":"trial","type":"quantitative","scale":{"domain":[13.5,40.5],"nice":false,"zero":false},"axis":{"orient":"bottom","values":[40],"title":"Number of Trials"}},
     "y":{"field":"icc","type":"quantitative","scale":{"domain":[-0.8,1],"nice":false,"zero":false},"axis":{"orient":"left","grid":true,"labelOverlap":false,"values":[-0.8,-0.6,-0.4,-0.2,0,0.2,0.4,0.6,0.8,1],"title":"ICCa","labelExpr":"(datum.value < 0 ? '-' : '') + replace(format(abs(datum.value), '.2f'), '.', ',')"}}},
    "layer":[
     {"transform":[{"filter":"datum.series == 'S3'"}],"mark":{"type":"line","clip":true,"color":"#2e2e2e","strokeWidth":1.8,"strokeDash":[1.6,1.8]}},
     {"transform":[{"filter":"datum.series == 'S2'"}],"mark":{"type":"line","clip":true,"color":"#1c1c1c","strokeWidth":2.2,"strokeDash":[10,4]}},
     {"transform":[{"filter":"datum.series == 'S1'"}],"mark":{"type":"line","clip":true,"color":"#1c1c1c","strokeWidth":2.2}}
    ]}
  ]},
 {"width":413,"height":233,"title":{"text":"Graph 1f: LAT - UNEXPECTED UNLOADING","offset":-32},
  "data":{"name":"g1f"},
  "resolve":{"axis":{"x":"independent","y":"independent"}},
  "layer":[
   {"transform":[{"aggregate":[{"op":"count","as":"n"}]}],"mark":{"type":"rule","color":"#a0a0a0","strokeWidth":1,"clip":false},"encoding":{"x":{"datum":-0.086,"axis":null},"x2":{"datum":40.8293},"y":{"datum":1.15708,"axis":null}}},
   {"transform":[{"aggregate":[{"op":"count","as":"n"}]}],"mark":{"type":"rule","color":"#a0a0a0","strokeWidth":1,"clip":false},"encoding":{"x":{"datum":-0.086,"axis":null},"y":{"datum":1.15708,"axis":null},"y2":{"datum":-1.06781}}},
   {"encoding":{
     "x":{"field":"trial","type":"quantitative","scale":{"domain":[6.5,40.5],"nice":false,"zero":false},"axis":{"orient":"bottom","values":[40],"title":"Number of Trials"}},
     "y":{"field":"icc","type":"quantitative","scale":{"domain":[-0.8,0.8],"nice":false,"zero":false},"axis":{"orient":"left","grid":true,"labelOverlap":false,"values":[-0.8,-0.6,-0.4,-0.2,0,0.2,0.4,0.6,0.8],"title":"ICCa","labelExpr":"(datum.value < 0 ? '-' : '') + replace(format(abs(datum.value), '.2f'), '.', ',')"}}},
    "layer":[
     {"transform":[{"filter":"datum.series == 'S3'"}],"mark":{"type":"line","clip":true,"color":"#2e2e2e","strokeWidth":1.8,"strokeDash":[1.6,1.8]}},
     {"transform":[{"filter":"datum.series == 'S2'"}],"mark":{"type":"line","clip":true,"color":"#1c1c1c","strokeWidth":2.2,"strokeDash":[10,4]}},
     {"transform":[{"filter":"datum.series == 'S1'"}],"mark":{"type":"line","clip":true,"color":"#1c1c1c","strokeWidth":2.2}}
    ]}
  ]}
]}
]
}
